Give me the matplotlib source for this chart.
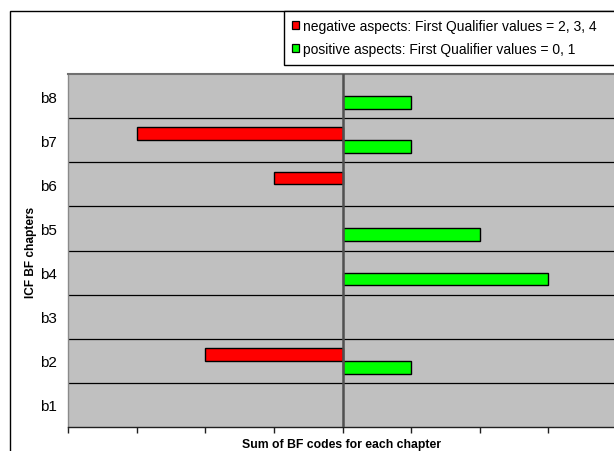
import matplotlib
matplotlib.use("Agg")
import matplotlib.pyplot as plt
import numpy as np
from matplotlib.patches import Patch, Rectangle

plt.rcParams['font.family'] = ['Liberation Sans', 'DejaVu Sans']

categories = ["b1", "b2", "b3", "b4", "b5", "b6", "b7", "b8"]
negative = [0, -2, 0, 0, 0, -1, -3, 0]
positive = [0, 1, 0, 3, 2, 0, 1, 1]
neg_label = "negative aspects: First Qualifier values = 2, 3, 4"
pos_label = "positive aspects: First Qualifier values = 0, 1"
x_ticks = [-4, -3, -2, -1, 0, 1, 2, 3, 4]

W, H = 614, 452
fig = plt.figure(figsize=(W / 100, H / 100), dpi=100)
fig.patch.set_facecolor("white")

# outer chart frame (extends past right/bottom edges)
fig.patches.append(Rectangle((9.5 / W, -0.2), 2.0, 1.2 - 12 / H,
                             transform=fig.transFigure, fill=False,
                             edgecolor="black", linewidth=1.0, zorder=0))

left, right, top, bottom = 68, 617, 75, 428
ax = fig.add_axes([left / W, 1 - bottom / H, (right - left) / W, (bottom - top) / H])
ax.set_facecolor("#C0C0C0")

y = np.arange(1, len(categories) + 1)
neg = np.array(negative, dtype=float)
pos = np.array(positive, dtype=float)
h = 0.29
mn = neg != 0
mp = pos != 0
ax.barh(y[mn] + h / 2, neg[mn], height=h, color="#FF0000", edgecolor="black",
        linewidth=1.0, zorder=3)
ax.barh(y[mp] - h / 2, pos[mp], height=h, color="#00FF00", edgecolor="black",
        linewidth=1.0, zorder=3)

for b in np.arange(1.5, len(categories), 1.0):
    ax.axhline(b, color="black", linewidth=0.9, zorder=1)
ax.axvline(0, color="#505050", linewidth=1.8, zorder=4)

ax.set_xlim(x_ticks[0], x_ticks[-1])
ax.set_ylim(0.5, len(categories) + 0.5)
ax.set_xticks(x_ticks)
ax.set_xticklabels([])
ax.tick_params(axis="x", direction="out", length=4, width=1, color="#202020")
ax.set_yticks(y)
ax.set_yticklabels(categories, fontsize=11)
ax.tick_params(axis="y", length=0, pad=8)

ax.spines["left"].set_color("#8A8A8A")
ax.spines["left"].set_linewidth(1.0)
ax.spines["top"].set_color("#707070")
ax.spines["top"].set_linewidth(1.5)
ax.spines["bottom"].set_color("#202020")
ax.spines["bottom"].set_linewidth(1.0)
ax.spines["right"].set_visible(False)

fig.text(342 / W, 1 - 445 / H, "Sum of BF codes for each chapter",
         ha="center", va="center", fontsize=8.8, fontweight="bold")
fig.text(31 / W, 1 - 252 / H, "ICF BF chapters", rotation=90,
         ha="center", va="center", fontsize=8.6, fontweight="bold")

handles = [Patch(facecolor="#FF0000", edgecolor="black", linewidth=0.9),
           Patch(facecolor="#00FF00", edgecolor="black", linewidth=0.9)]
leg = fig.legend(handles, [neg_label, pos_label], loc="upper left",
                 bbox_to_anchor=(283.5 / W, 1 - 65 / H, 400 / W, 53 / H),
                 bbox_transform=fig.transFigure, mode="expand",
                 fontsize=10, frameon=True, fancybox=False, framealpha=1,
                 edgecolor="black", borderaxespad=0, handlelength=0.5,
                 handleheight=0.5, handletextpad=0.3, labelspacing=0.65,
                 borderpad=0.6)
leg.get_frame().set_linewidth(1.0)

fig.savefig("out.png", dpi=100, facecolor="white")
